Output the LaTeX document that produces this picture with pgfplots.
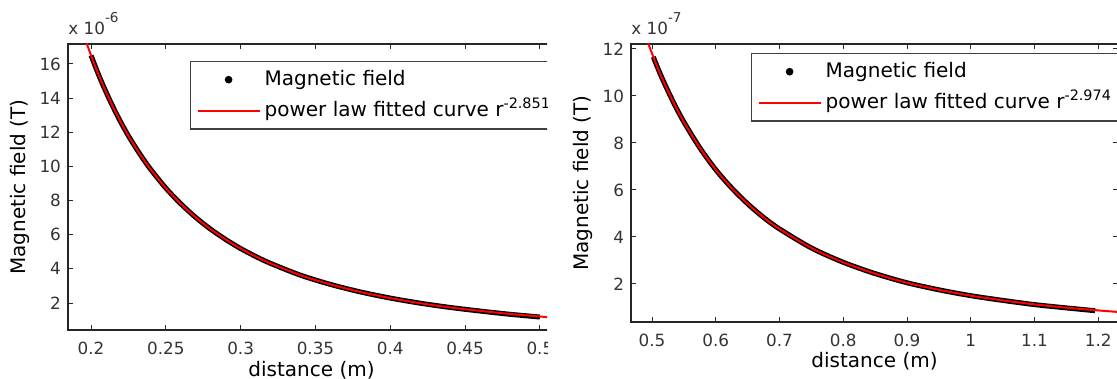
\documentclass[border=0pt]{standalone}
\usepackage{pgfplots}
\pgfplotsset{compat=1.18}
\usepackage{fontspec}
\setmainfont{DejaVu Sans}
\pgfplotstableread{
r B
0.196 17.48
0.2 16.5
0.205 15.38
0.21 14.36
0.215 13.43
0.22 12.57
0.225 11.79
0.23 11.08
0.235 10.42
0.24 9.81
0.25 8.73
0.26 7.81
0.27 7.01
0.28 6.32
0.29 5.72
0.30 5.19
0.31 4.73
0.32 4.32
0.34 3.63
0.36 3.09
0.38 2.65
0.40 2.29
0.42 1.99
0.44 1.74
0.46 1.54
0.48 1.36
0.50 1.21
0.51 1.14
}\fitA
\pgfplotstableread{
r B
0.2 16.5
0.205 15.38
0.21 14.36
0.215 13.43
0.22 12.57
0.225 11.79
0.23 11.08
0.235 10.42
0.24 9.81
0.25 8.73
0.26 7.81
0.27 7.01
0.28 6.32
0.29 5.72
0.30 5.19
0.31 4.73
0.32 4.32
0.34 3.63
0.36 3.09
0.38 2.65
0.40 2.29
0.42 1.99
0.44 1.74
0.46 1.53
0.48 1.34
0.50 1.18
}\dataA
\pgfplotstableread{
r B
0.49 12.53
0.5 11.8
0.51 11.12
0.52 10.50
0.535 9.65
0.55 8.89
0.575 7.79
0.6 6.86
0.625 6.08
0.65 5.41
0.675 4.83
0.7 4.34
0.75 3.53
0.8 2.92
0.85 2.44
0.9 2.05
0.95 1.75
1.0 1.50
1.05 1.30
1.1 1.13
1.15 0.99
1.2 0.873
1.24 0.79
}\fitB
\pgfplotstableread{
r B
0.502 11.66
0.51 11.12
0.52 10.50
0.535 9.65
0.55 8.89
0.575 7.79
0.6 6.86
0.625 6.08
0.65 5.41
0.675 4.83
0.7 4.34
0.75 3.53
0.8 2.92
0.85 2.44
0.9 2.05
0.95 1.75
1.0 1.50
1.05 1.30
1.1 1.12
1.15 0.98
1.195 0.86
}\dataB
\begin{document}
\begin{tikzpicture}
\useasboundingbox (0,0) rectangle (558.5pt,-189.5pt);
\pgfplotsset{
  mat/.style={
    scale only axis,
    width=243.5pt,
    axis line style={black!85, line width=0.6pt},
    every tick/.style={black!85, line width=0.5pt},
    tick align=inside,
    major tick length=2.5pt,
    ticklabel style={font=\fontsize{8.4}{10}\selectfont, text=black!80},
    xticklabel style={yshift=-2.7pt},
    label style={font=\fontsize{8.4}{10}\selectfont, text=black!80},
    every axis x label/.style={at={(axis description cs:0.5,-0.14)}, anchor=center},
    every axis y label/.style={at={(axis description cs:-0.0986,0.5)}, anchor=center, rotate=90},
    xlabel={distance (m)},
    ylabel={Magnetic field (T)},
    legend style={anchor=north west, draw=black!75, line width=0.6pt,
      font=\fontsize{10}{12}\selectfont, inner xsep=3pt, inner ysep=2.5pt,
      row sep=2.5pt, cells={anchor=west}},
    legend image code/.code={\draw[#1] (0pt,0pt) -- (31pt,0pt);},
  }
}
\begin{scope}
\clip (0,0) rectangle (273.5pt,-189.5pt);
\begin{axis}[mat, name=axA, at={(34pt,-22pt)}, anchor=north west, height=143pt,
  xmin=0.1846, xmax=0.5101, ymin=0.42, ymax=17.17,
  xtick={0.2,0.25,0.3,0.35,0.4,0.45,0.5},
  xticklabels={0.2,0.25,0.3,0.35,0.4,0.45,0.5},
  ytick={2,4,6,8,10,12,14,16},
  yticklabels={2,4,6,8,10,12,14,16},
  legend style={at={(0.2505,0.9406)}}]
\addplot[black, line width=2.5pt, smooth, forget plot] table {\dataA};
\addplot[red, line width=1pt, smooth, forget plot] table {\fitA};
\addlegendimage{legend image code/.code={\fill[black] (15.5pt,0pt) circle (1.6pt);}}
\addlegendentry{Magnetic field}
\addlegendimage{red, line width=1pt}
\addlegendentry{power law fitted curve r\raisebox{4pt}[0pt][0pt]{\fontsize{7.2}{8}\selectfont -2.851}}
\end{axis}
\node[anchor=base west, inner sep=0pt, font=\fontsize{8.4}{10}\selectfont, text=black!80] at ([yshift=4.5pt]axA.north west) {x 10\raisebox{6pt}{\fontsize{6.8}{8}\selectfont -6}};
\end{scope}
\begin{axis}[mat, name=axB, at={(315.5pt,-22pt)}, anchor=north west, height=139pt,
  xmin=0.467, xmax=1.231, ymin=0.38, ymax=12.21,
  xtick={0.5,0.6,0.7,0.8,0.9,1,1.1,1.2},
  xticklabels={0.5,0.6,0.7,0.8,0.9,1,1.1,1.2},
  ytick={2,4,6,8,10,12},
  yticklabels={2,4,6,8,10,12},
  legend style={at={(0.2464,0.9676)}}]
\addplot[black, line width=2.5pt, smooth, forget plot] table {\dataB};
\addplot[red, line width=1pt, smooth, forget plot] table {\fitB};
\addlegendimage{legend image code/.code={\fill[black] (15.5pt,0pt) circle (1.6pt);}}
\addlegendentry{Magnetic field}
\addlegendimage{red, line width=1pt}
\addlegendentry{power law fitted curve r\raisebox{4pt}[0pt][0pt]{\fontsize{7.2}{8}\selectfont -2.974}}
\end{axis}
\node[anchor=base west, inner sep=0pt, font=\fontsize{8.4}{10}\selectfont, text=black!80] at ([yshift=4.5pt]axB.north west) {x 10\raisebox{6pt}{\fontsize{6.8}{8}\selectfont -7}};
\end{tikzpicture}
\end{document}
